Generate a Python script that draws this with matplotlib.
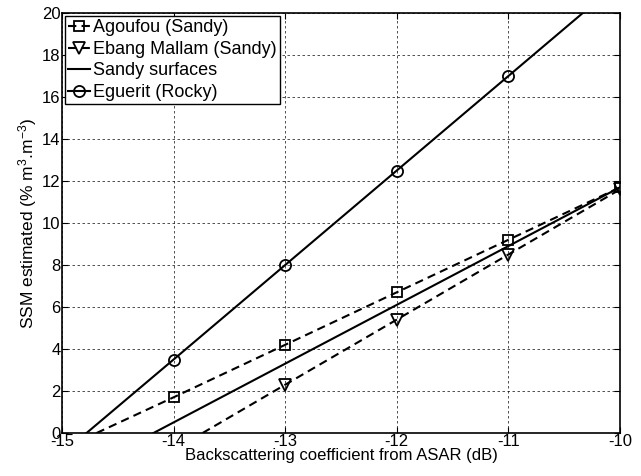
import matplotlib
matplotlib.use('Agg')
import matplotlib.pyplot as plt

plt.rcParams['font.family'] = ['Liberation Sans', 'DejaVu Sans']
plt.rcParams['mathtext.fontset'] = 'custom'
plt.rcParams['mathtext.rm'] = 'Liberation Sans'
plt.rcParams['mathtext.it'] = 'Liberation Sans'
plt.rcParams['axes.unicode_minus'] = False

# data (first point = where the line meets y=0)
agou_x = [-14.69, -14, -13, -12, -11, -10]
agou_y = [0, 1.7, 4.2, 6.7, 9.2, 11.7]

ebang_x = [-13.74, -13, -12, -11, -10]
ebang_y = [0, 2.3, 5.4, 8.5, 11.6]

sandy_x = [-14.18, -10]
sandy_y = [0, 11.7]

egue_x = [-14.78, -14, -13, -12, -11, -10]
egue_y = [0, 3.5, 8.0, 12.5, 17.0, 21.5]

xticks = [-15, -14, -13, -12, -11, -10]
yticks = [0, 2, 4, 6, 8, 10, 12, 14, 16, 18, 20]

fig = plt.figure(figsize=(6.41, 4.76), dpi=100)
ax = fig.add_axes([62/641., 1 - 433/476., (620-62)/641., (433-13)/476.])

ax.plot(agou_x, agou_y, 'k--', marker='s', markevery=[1, 2, 3, 4, 5], ms=6.5,
        mfc='none', mew=1.3, lw=1.5, dashes=(4, 2.5), label='Agoufou (Sandy)')
ax.plot(ebang_x, ebang_y, 'k--', marker='v', markevery=[1, 2, 3, 4], ms=8,
        mfc='none', mew=1.3, lw=1.5, dashes=(4, 2.5), label='Ebang Mallam (Sandy)')
ax.plot(sandy_x, sandy_y, 'k-', lw=1.5, label='Sandy surfaces')
ax.plot(egue_x, egue_y, 'k-', marker='o', markevery=[1, 2, 3, 4], ms=8,
        mfc='none', mew=1.3, lw=1.5, label='Eguerit (Rocky)')

ax.set_xlim(-15, -10)
ax.set_ylim(0, 20)
ax.set_xticks(xticks)
ax.set_yticks(yticks)
ax.grid(True, color='k', linestyle=(0, (3, 3)), lw=0.6, alpha=0.8)
ax.tick_params(direction='in', labelsize=12, length=4, top=True, right=True, pad=1)
for s in ax.spines.values():
    s.set_linewidth(1.2)

ax.set_xlabel('Backscattering coefficient from ASAR (dB)', fontsize=12, labelpad=-1)
ax.set_ylabel('SSM estimated (% m$^{3}$.m$^{-3}$)', fontsize=12.5, labelpad=2)

leg = ax.legend(loc='upper left', fontsize=13, handlelength=1.2, handletextpad=0.15,
                borderpad=0.2, labelspacing=0.25, borderaxespad=0.15, fancybox=False)
leg.get_frame().set_edgecolor('k')
leg.get_frame().set_linewidth(1.0)
leg.get_frame().set_alpha(1)

fig.savefig('out.png', dpi=100)
